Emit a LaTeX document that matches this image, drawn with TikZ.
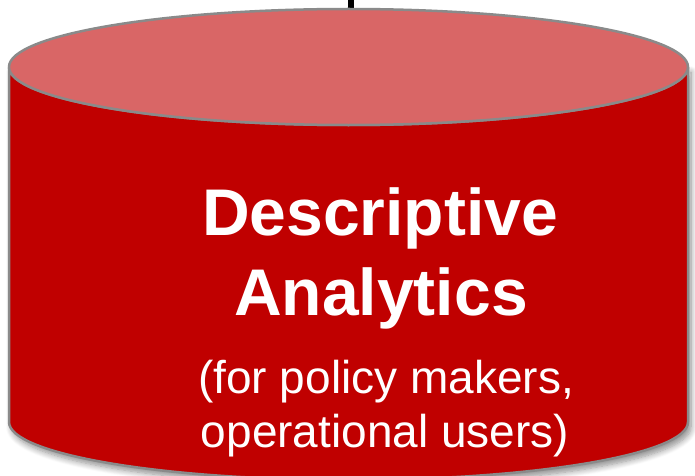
\documentclass[tikz,border=0pt]{standalone}
\usepackage{fontspec}
\setmainfont{Liberation Sans}
\usetikzlibrary{shadows.blur}
\definecolor{bodyred}{HTML}{C00000}
\definecolor{lidred}{HTML}{D96666}
\definecolor{rimgray}{HTML}{8A8A8A}
\tikzset{
  rim/.style={draw=rimgray, line width=2.5pt, line join=round},
  titletext/.style={text=white, font=\fontsize{66}{80}\selectfont\bfseries, anchor=base, inner sep=0pt},
  subtext/.style={text=white, font=\fontsize{46}{54}\selectfont, anchor=base, inner sep=0pt},
  feed/.style={draw=black, line width=6pt}
}
\begin{document}
\begin{tikzpicture}[x=1pt, y=1pt]
  \useasboundingbox (0,0) rectangle (695,475);
  % incoming line at the top
  \coordinate (feedin) at (350.5,475);
  \coordinate (lidtop) at (350.5,462);
  \draw[feed] (feedin) -- (lidtop);
  % cylinder body
  \path[rim, fill=bodyred, blur shadow={shadow xshift=3pt, shadow yshift=-5pt, shadow opacity=45, shadow blur steps=8, shadow blur radius=6pt}]
    (9,408) -- (9,53) arc[start angle=180, end angle=360, x radius=339.5, y radius=58]
    -- (688,408) arc[start angle=0, end angle=-180, x radius=339.5, y radius=58] -- cycle;
  % lid
  \path[rim, fill=lidred] (348.5,408) ellipse[x radius=339.5, y radius=58];
  % labels
  \node[titletext] (t1) at (380,240) {Descriptive};
  \node[titletext] (t2) at (381,160) {Analytics};
  \node[subtext] (s1) at (386,82) {(for policy makers,};
  \node[subtext] (s2) at (385,28) {operational users)};
\end{tikzpicture}
\end{document}
